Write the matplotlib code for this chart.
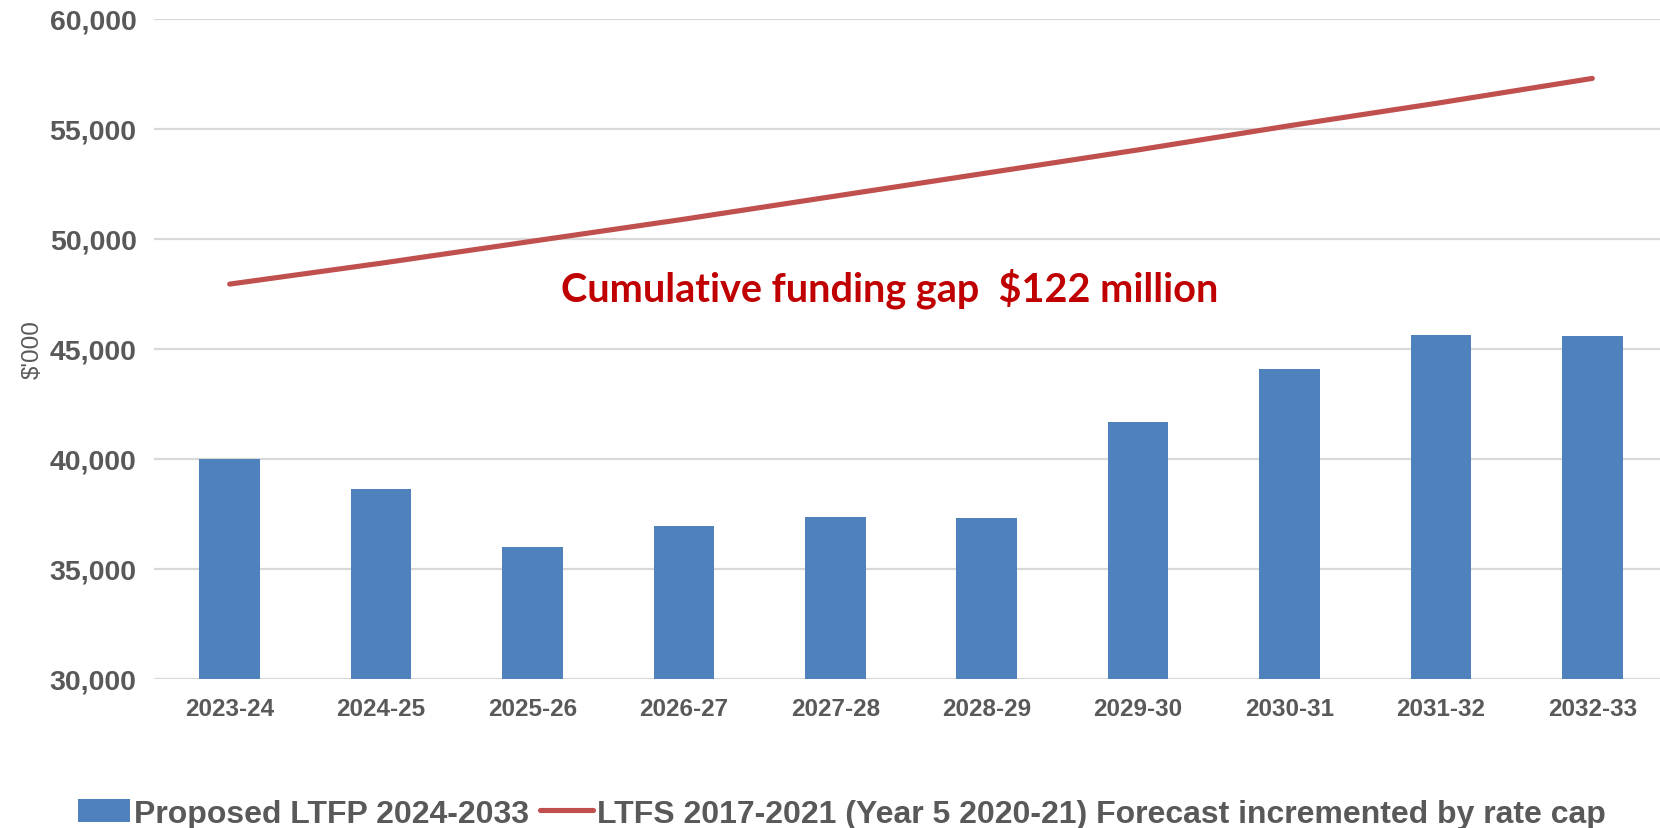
import matplotlib
matplotlib.use("Agg")
import matplotlib.pyplot as plt
from matplotlib.patches import Patch
from matplotlib.lines import Line2D
from matplotlib.ticker import FuncFormatter, MultipleLocator

# Financial years
years = ["2023-24", "2024-25", "2025-26", "2026-27", "2027-28",
         "2028-29", "2029-30", "2030-31", "2031-32", "2032-33"]

# Proposed LTFP 2024-2033 ($'000)
ltfp = [40000, 38650, 36000, 36950, 37350, 37300, 41700, 44100, 45650, 45580]

# LTFS 2017-2021 (Year 5 2020-21) forecast incremented by rate cap ($'000)
ltfs = [47950, 48900, 49900, 50900, 51950, 53000, 54050, 55150, 56200, 57300]

bar_label = "Proposed LTFP 2024-2033"
line_label = "LTFS 2017-2021 (Year 5 2020-21) Forecast incremented by rate cap"
gap_note = "Cumulative funding gap  $122 million"

BLUE = "#4F81BD"
RED = "#C0504D"
GREY = "#595959"
GRID = "#D9D9D9"

plt.rcParams["font.family"] = ["Liberation Sans", "DejaVu Sans"]

fig = plt.figure(figsize=(16.6, 8.29), dpi=100)
ax = fig.add_axes([154 / 1660, 149 / 829, 1514 / 1660, 660 / 829])

x = list(range(len(years)))
ax.bar(x, ltfp, width=0.4, color=BLUE, zorder=2)
ax.plot(x, ltfs, color=RED, lw=3.7, solid_capstyle="round", zorder=3)

ax.set_xlim(-0.5, len(years) - 0.5)
ax.set_ylim(30000, 60000)
ax.yaxis.set_major_locator(MultipleLocator(5000))
ax.yaxis.set_major_formatter(FuncFormatter(lambda v, p: f"{v:,.0f}"))
ax.set_xticks(x)
ax.set_xticklabels(years)

ax.grid(axis="y", color=GRID, lw=1.6, zorder=0)
ax.set_axisbelow(True)
for s in ax.spines.values():
    s.set_visible(False)

ax.tick_params(axis="y", length=0, pad=12.5, labelsize=20.5, labelcolor=GREY)
ax.tick_params(axis="x", length=0, pad=13, labelsize=17.5, labelcolor=GREY)
for lab in ax.get_yticklabels() + ax.get_xticklabels():
    lab.set_fontweight("bold")

fig.text(33 / 1660, 1 - 350 / 829, "$'000", rotation=90, ha="center",
         va="center", fontsize=17.5, color=GREY)

ax.text(4.36, 47800, gap_note, ha="center", va="center", fontsize=28.5,
        fontweight="bold", color="#C00000", family=["Lato", "DejaVu Sans"])

handles = [Patch(facecolor=BLUE, edgecolor="none"),
           Line2D([0], [0], color=RED, lw=3.7, solid_capstyle="round")]
fig.legend(handles, [bar_label, line_label], loc="center",
           bbox_to_anchor=(0.507, 0.017), ncol=2, frameon=False,
           prop={"size": 23, "weight": "bold"}, labelcolor=GREY,
           handlelength=1.65, handleheight=0.75, handletextpad=0.12,
           columnspacing=0.35, borderpad=0, borderaxespad=0)

fig.savefig("out.png", dpi=100, facecolor="white")
